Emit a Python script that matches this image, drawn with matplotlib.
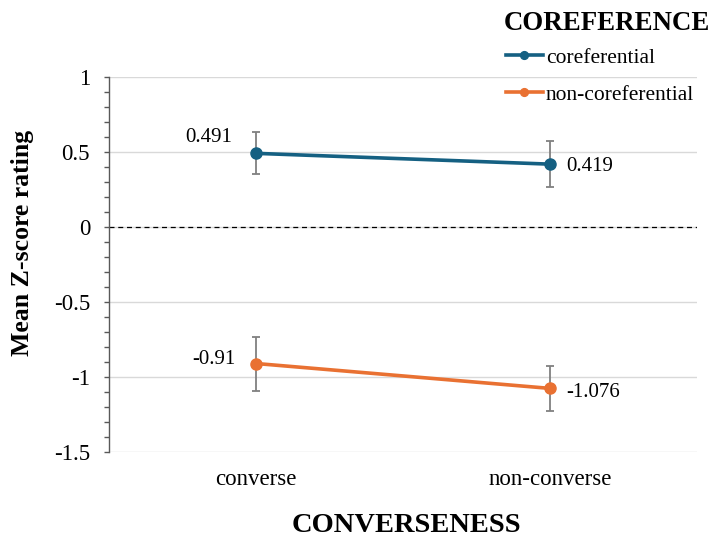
import matplotlib
matplotlib.use("Agg")
import matplotlib.pyplot as plt
from matplotlib.ticker import MultipleLocator

plt.rcParams['font.family'] = ['Liberation Serif', 'DejaVu Serif']

# conditions on the x axis and the two coreference series
conditions = ['converse', 'non-converse']
series_names = ['coreferential', 'non-coreferential']
means = {
    'coreferential': [0.491, 0.419],
    'non-coreferential': [-0.91, -1.076],
}
errors = {
    'coreferential': [0.14, 0.155],
    'non-coreferential': [0.18, 0.15],
}
colors = {'coreferential': '#156082', 'non-coreferential': '#E97132'}

fig = plt.figure(figsize=(7.16, 5.37), dpi=100)
ax = fig.add_axes([109 / 716, 1 - 452 / 537, 588 / 716, 375 / 537])

x = list(range(len(conditions)))
handles = []
for name in series_names:
    ax.errorbar(x, means[name], yerr=errors[name], fmt='none',
                ecolor='#808080', elinewidth=1.3, capsize=3, capthick=1.3, zorder=3)
    h, = ax.plot(x, means[name], color=colors[name], lw=2.6, marker='o',
                 markersize=8, zorder=4, label=name)
    handles.append(h)

# value labels next to each point: (dx, dy, ha) in points
label_offsets = {
    'coreferential': [(-17, 11.5, 'right'), (12, -1.5, 'left')],
    'non-coreferential': [(-14.5, 3, 'right'), (12, -3, 'left')],
}
for name in series_names:
    for i, v in enumerate(means[name]):
        dx, dy, ha = label_offsets[name][i]
        ax.annotate(f'{v:g}', (x[i], v), xytext=(dx, dy),
                    textcoords='offset points', ha=ha, va='center', fontsize=15)

ax.axhline(0, color='black', lw=0.9, ls=(0, (4, 3)), zorder=2)

ax.set_xlim(-0.5, 1.5)
ax.set_ylim(-1.5, 1)
ax.yaxis.set_major_locator(MultipleLocator(0.5))
ax.yaxis.set_minor_locator(MultipleLocator(0.1))
ax.set_yticks([1, 0.5, 0, -0.5, -1, -1.5])
ax.set_yticklabels(['1', '0.5', '0', '-0.5', '-1', '-1.5'])
ax.set_xticks(x)
ax.set_xticklabels(conditions)
ax.tick_params(axis='y', which='both', direction='out', length=3.6, width=1,
               color='#595959', labelsize=16.5, pad=10)
ax.tick_params(axis='x', length=0, labelsize=16.5, pad=12)
ax.grid(axis='y', color='#d9d9d9', lw=1)
ax.set_axisbelow(True)
for s in ['top', 'right', 'bottom']:
    ax.spines[s].set_visible(False)
ax.spines['left'].set_color('#595959')
ax.spines['left'].set_linewidth(1)

fig.text(23 / 716, 1 - 243 / 537, 'Mean Z-score rating', rotation=90,
         ha='center', va='center', fontsize=18.5, fontweight='bold')
fig.text(406 / 716, 1 - 525 / 537, 'CONVERSENESS', ha='center', va='center',
         fontsize=20.5, fontweight='bold')

fig.text(607 / 716, 1 - 24 / 537, 'COREFERENCE', ha='center', va='center',
         fontsize=19.4, fontweight='bold')
fig.legend(handles=handles, loc='upper left', bbox_to_anchor=(497 / 716, 1 - 39 / 537),
           frameon=False, fontsize=15.5, handlelength=1.75, handletextpad=0.12,
           labelspacing=0.8, borderaxespad=0, markerscale=0.7)

fig.savefig('out.png', dpi=100)
